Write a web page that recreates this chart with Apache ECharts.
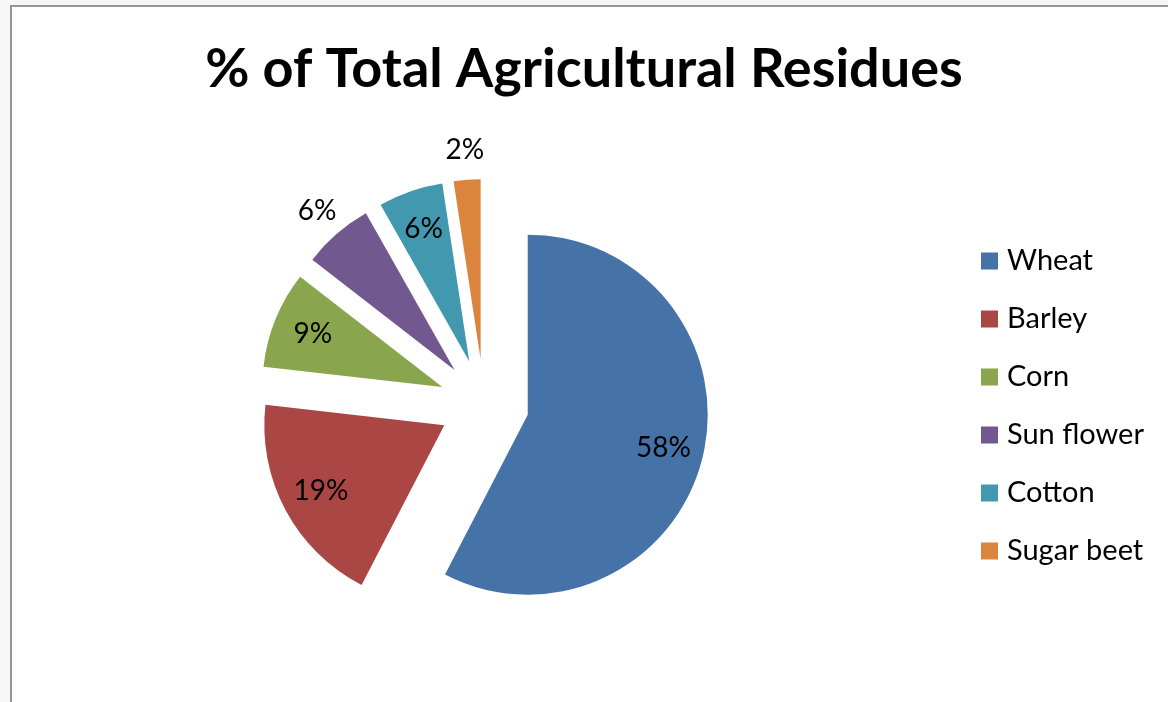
<!DOCTYPE html>
<html>
<head>
<meta charset="utf-8">
<script src="https://cdn.jsdelivr.net/npm/echarts@6/dist/echarts.min.js"></script>
<style>
html,body{margin:0;padding:0;background:#f6f6f6;}
#chart{width:1168px;height:702px;}
</style>
</head>
<body>
<div id="chart"></div>
<script>
const titleText = '% of Total Agricultural Residues';
const categories = ['Wheat', 'Barley', 'Corn', 'Sun flower', 'Cotton', 'Sugar beet'];
const values = [57.6, 19.2, 8.7, 6.3, 5.8, 2.4];
const colors = ['#4572A7', '#AA4643', '#89A54E', '#71588F', '#4198AF', '#DB843D'];
const labelPlacement = ['inside', 'inside', 'inside', 'outside', 'inside', 'outside'];

const FONT = 'Lato';
const total = values.reduce((a, b) => a + b, 0);
function midDir(i) {
  let before = 0;
  for (let k = 0; k < i; k++) before += values[k];
  const a = (before + values[i] / 2) / total * 2 * Math.PI; // clockwise from top
  return [Math.sin(a), -Math.cos(a)];
}
const R = 180;

const data = categories.map((c, i) => ({
  name: c,
  value: values[i],
  selected: true,
  itemStyle: { color: colors[i] }
}));

const chart = echarts.init(document.getElementById('chart'), null, { renderer: 'canvas' });
chart.setOption({
  animation: false,
  backgroundColor: '#f6f6f6',
  graphic: [{
    type: 'rect',
    shape: { x: 11, y: 6, width: 1300, height: 900 },
    style: { fill: '#ffffff', stroke: '#959595', lineWidth: 2 },
    silent: true, z: -10
  }],
  title: {
    text: titleText,
    left: 'center',
    top: 38,
    textStyle: { fontFamily: FONT, fontWeight: 'bold', fontSize: 54, color: '#000' }
  },
  legend: {
    orient: 'vertical',
    left: 976,
    top: 241,
    icon: 'rect',
    itemWidth: 17,
    itemHeight: 17,
    itemGap: 28,
    data: categories,
    textStyle: { fontFamily: FONT, fontSize: 29, color: '#000', lineHeight: 30, padding: [0, 0, 0, 4] }
  },
  series: [{
    type: 'pie',
    center: [484, 404],
    radius: R,
    startAngle: 90,
    clockwise: true,
    selectedMode: 'multiple',
    selectedOffset: 45,
    avoidLabelOverlap: false,
    emphasis: { disabled: true },
    select: { itemStyle: { borderWidth: 0 } },
    itemStyle: { borderWidth: 0 },
    label: {
      show: true,
      position: 'inside',
      formatter: p => Math.round(p.value / total * 100) + '%',
      fontFamily: FONT,
      fontSize: 28,
      color: '#000'
    },
    labelLine: { show: false },
    labelLayout: function (params) {
      const i = params.dataIndex;
      const d = midDir(i);
      const target = labelPlacement[i] === 'inside' ? 0.76 * R : 1.15 * R;
      const k = target - 0.5 * R;
      return { dx: d[0] * k, dy: d[1] * k };
    },
    data: data
  }]
});
</script>
</body>
</html>
